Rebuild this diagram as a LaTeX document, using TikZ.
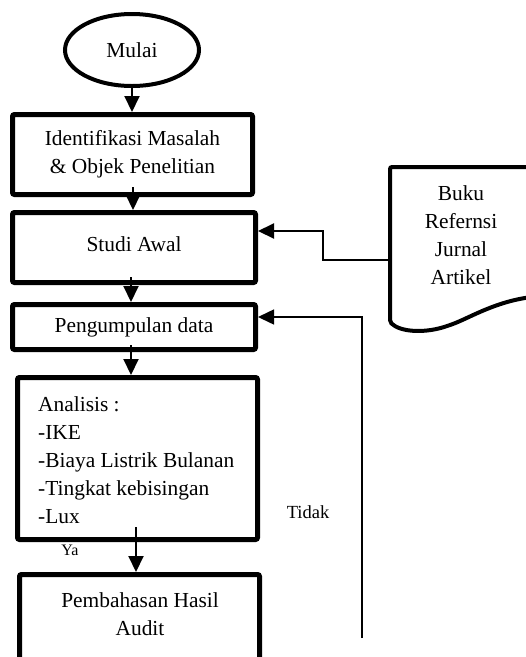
\documentclass[tikz,border=0pt]{standalone}
\usepackage{fontspec}
\setmainfont{Liberation Serif}
\usetikzlibrary{shapes.geometric,arrows.meta}
\begin{document}
\begin{tikzpicture}[x=1pt,y=-1pt,
  txt/.style={font=\fontsize{21.4pt}{28pt}\selectfont, inner sep=0pt},
  box/.style={draw, line width=5pt, rounded corners=2pt, font=\fontsize{21.4pt}{28pt}\selectfont, align=center, inner sep=0pt},
  arr/.style={line width=2pt, -{Triangle[length=16pt,width=15pt]}},
  lbl/.style={inner sep=0pt}
]
\useasboundingbox (0,0) rectangle (526,657);
\clip (0,0) rectangle (526,657);
\fill[white] (0,0) rectangle (526,657);

\node[lbl, font=\fontsize{16pt}{18pt}\selectfont] (ya) at (70,550) {Ya};
\node[lbl, font=\fontsize{18.5pt}{20pt}\selectfont] (tidak) at (308,512) {Tidak};

\node[ellipse, draw, line width=4pt, minimum width=134pt, minimum height=72pt, inner sep=0pt, font=\fontsize{21.4pt}{28pt}\selectfont] (mulai) at (132,50) {Mulai};
\node[box, minimum width=240pt, minimum height=80pt] (b1) at (132.5,154.5) {Identifikasi Masalah\\\& Objek Penelitian};
\node[box, minimum width=243pt, minimum height=70pt] (b2) at (134,247.5) {\raisebox{7pt}{Studi Awal}};
\node[box, minimum width=243pt, minimum height=45pt] (b3) at (134,327) {Pengumpulan data};
\node[box, minimum width=240pt, minimum height=162pt] (b4) at (137.5,458.5) {};
\node[txt, align=left, anchor=west] (t4) at (38,460) {Analisis :\\-IKE\\-Biaya Listrik Bulanan\\-Tingkat kebisingan\\-Lux};
\node[box, minimum width=240pt, minimum height=110pt] (b5) at (139.5,629.5) {};
\node[txt, align=center] (t5) at (140,614) {Pembahasan Hasil\\Audit};

% document shape
\draw[line width=4pt, rounded corners=2pt] (390,322) -- (390,167) -- (545,167) -- (545,296)
  .. controls (500,298) and (470,318) .. (450,325)
  .. controls (425,334) and (400,332) .. (390,322) -- cycle;
\node[txt, align=center] (doctext) at (461,235) {Buku\\Refernsi\\Jurnal\\Artikel};

% connectors
\coordinate (a2s) at (133,187);
\coordinate (a3s) at (131,277);
\coordinate (a4s) at (131,345);
\coordinate (a5s) at (136,527);
\draw[arr] (mulai.south) -- (mulai.south |- b1.north);
\draw[arr] (a2s) -- (a2s |- b2.north);
\draw[arr] (a3s) -- (a3s |- b3.north);
\draw[arr] (a4s) -- (a4s |- b4.north);
\draw[arr] (a5s) -- (a5s |- b5.north);

\coordinate (din) at (388,260);
\coordinate (k1) at (323,260);
\coordinate (k2) at (323,231);
\draw[arr] (din) -- (k1) -- (k2) -- (k2 -| b2.east);

\coordinate (tb) at (362,638);
\coordinate (tt) at (362,317);
\draw[arr, line width=1.5pt] (tb) -- (tt) -- (tt -| b3.east);
\end{tikzpicture}
\end{document}
